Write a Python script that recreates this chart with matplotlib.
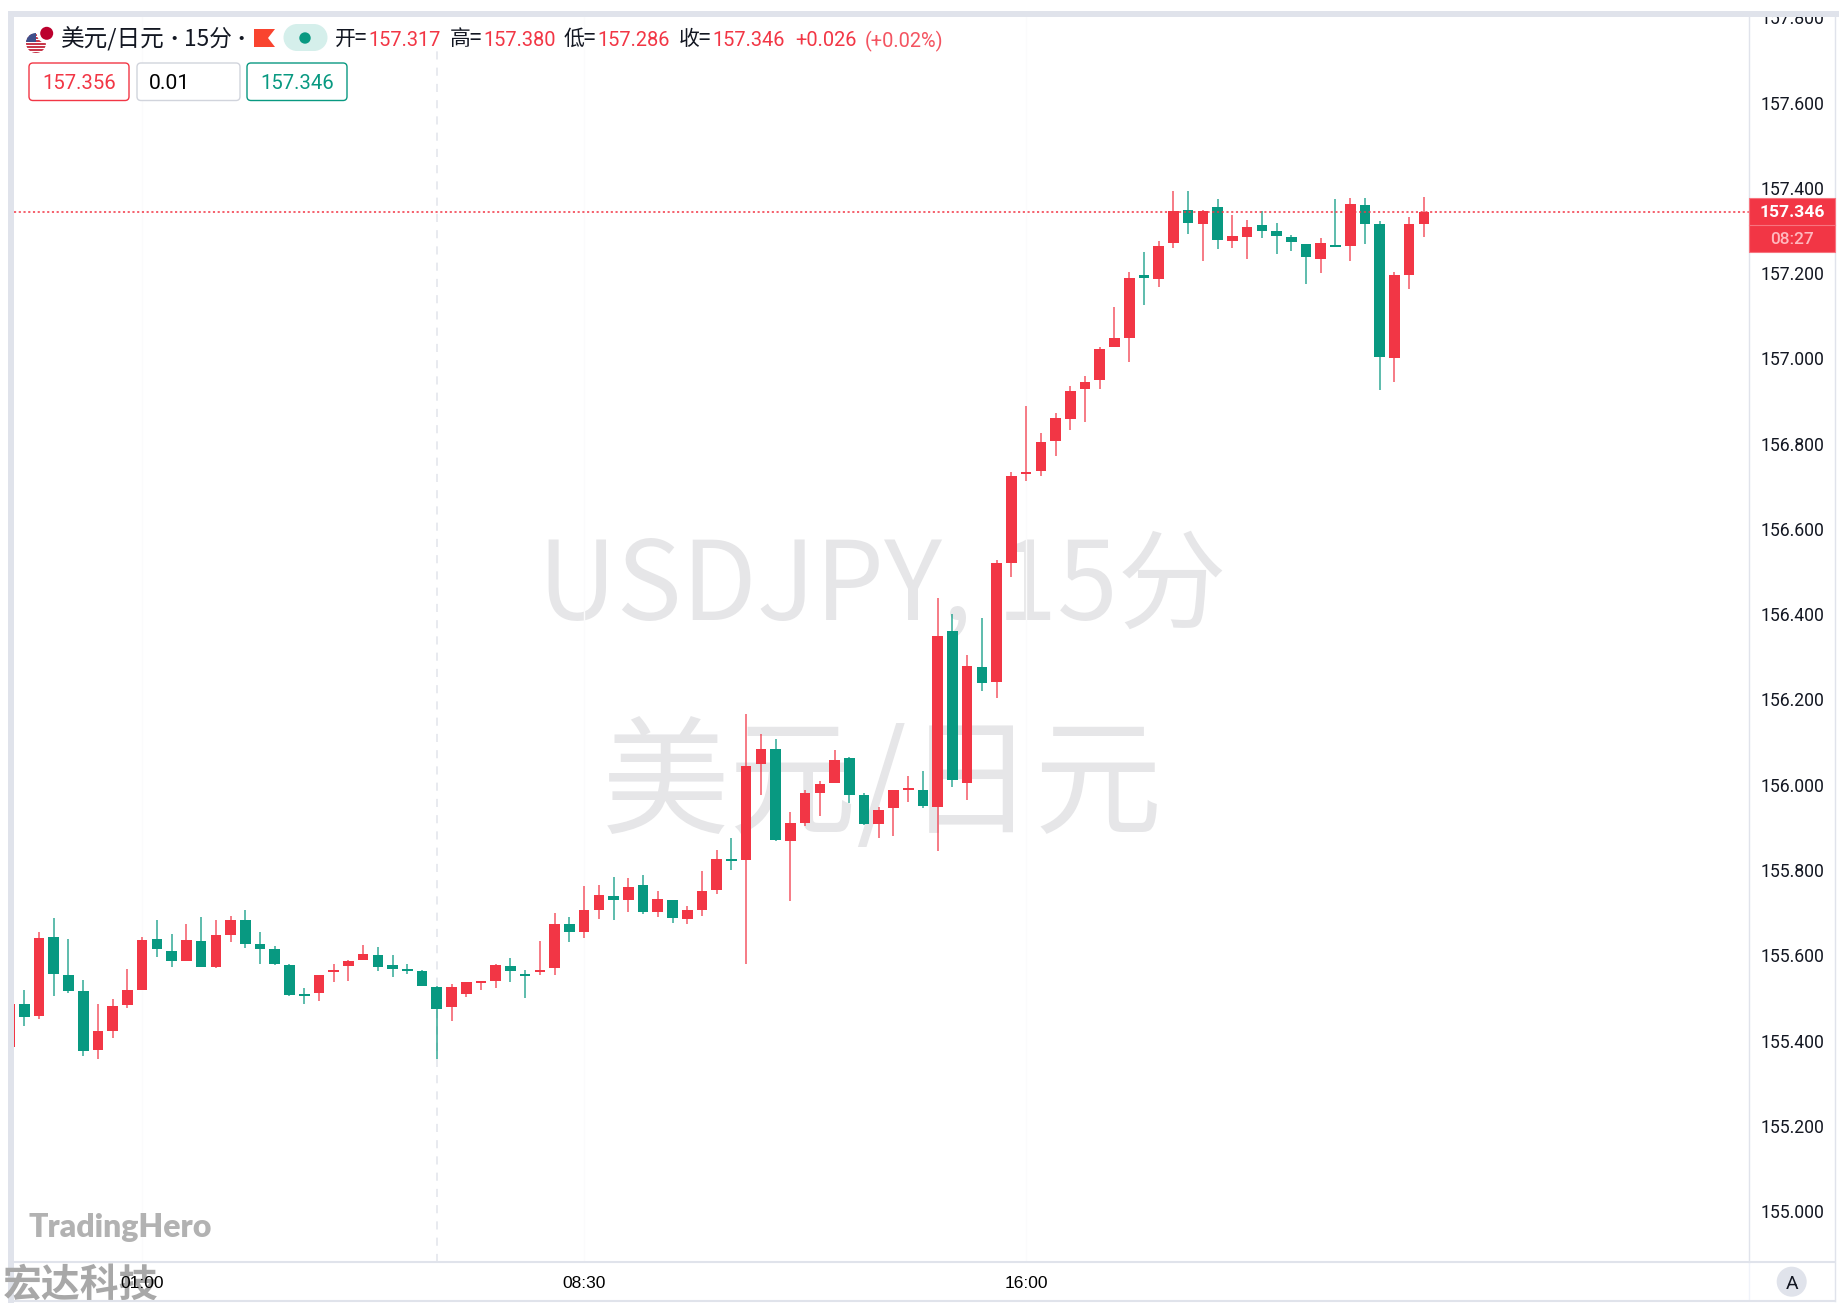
from matplotlib import pyplot as plt
from matplotlib.patches import Circle, FancyBboxPatch, Polygon, Rectangle
import numpy as np

CJK = ['Noto Sans CJK SC', 'DejaVu Sans']
NUM = 'Roboto'
RED = '#f23645'
GREEN = '#089981'
LINE = '#e0e3eb'

# 15 minute candles, the first one is cut by the left edge of the chart
opens = [155.387, 155.488, 155.459, 155.646, 155.557, 155.518, 155.380, 155.425, 155.485, 155.520,
         155.640, 155.613, 155.588, 155.635, 155.575, 155.649, 155.685, 155.628, 155.616, 155.580,
         155.509, 155.514, 155.563, 155.577, 155.591, 155.603, 155.580, 155.569, 155.566, 155.529,
         155.481, 155.511, 155.537, 155.543, 155.578, 155.556, 155.562, 155.573, 155.676, 155.657,
         155.708, 155.741, 155.732, 155.768, 155.705, 155.733, 155.688, 155.708, 155.756, 155.827,
         155.826, 156.050, 156.087, 155.871, 155.912, 155.983, 156.007, 156.064, 155.978, 155.910,
         155.948, 155.989, 155.989, 155.950, 156.362, 156.006, 156.279, 156.243, 156.522, 156.730,
         156.739, 156.808, 156.861, 156.930, 156.951, 157.028, 157.051, 157.195, 157.189, 157.272,
         157.350, 157.318, 157.358, 157.278, 157.288, 157.314, 157.300, 157.288, 157.271, 157.235,
         157.267, 157.266, 157.361, 157.317, 157.003, 157.197, 157.317]
highs = [155.487, 155.522, 155.658, 155.689, 155.641, 155.544, 155.487, 155.499, 155.571, 155.646,
         155.685, 155.653, 155.675, 155.692, 155.684, 155.694, 155.708, 155.658, 155.625, 155.583,
         155.525, 155.556, 155.582, 155.592, 155.627, 155.621, 155.604, 155.581, 155.567, 155.530,
         155.534, 155.540, 155.541, 155.581, 155.595, 155.569, 155.635, 155.702, 155.691, 155.766,
         155.767, 155.787, 155.784, 155.790, 155.752, 155.733, 155.717, 155.801, 155.849, 155.878,
         156.169, 156.122, 156.110, 155.939, 155.989, 156.011, 156.083, 156.068, 155.984, 155.949,
         155.989, 156.024, 156.035, 156.440, 156.403, 156.306, 156.393, 156.529, 156.736, 156.890,
         156.828, 156.874, 156.937, 156.960, 157.028, 157.123, 157.206, 157.253, 157.277, 157.394,
         157.394, 157.351, 157.375, 157.338, 157.328, 157.348, 157.321, 157.292, 157.271, 157.285,
         157.375, 157.378, 157.378, 157.324, 157.206, 157.335, 157.380]
lows = [155.387, 155.437, 155.452, 155.508, 155.515, 155.366, 155.359, 155.409, 155.478, 155.520,
        155.598, 155.574, 155.588, 155.574, 155.573, 155.633, 155.620, 155.582, 155.579, 155.507,
        155.488, 155.495, 155.540, 155.542, 155.591, 155.565, 155.552, 155.559, 155.531, 155.359,
        155.448, 155.504, 155.520, 155.525, 155.539, 155.502, 155.556, 155.556, 155.633, 155.644,
        155.687, 155.685, 155.704, 155.699, 155.692, 155.678, 155.676, 155.694, 155.745, 155.803,
        155.582, 155.978, 155.871, 155.729, 155.905, 155.929, 156.007, 155.960, 155.909, 155.878,
        155.883, 155.962, 155.948, 155.847, 155.998, 155.966, 156.222, 156.206, 156.490, 156.715,
        156.727, 156.773, 156.834, 156.852, 156.930, 157.028, 156.994, 157.127, 157.170, 157.261,
        157.295, 157.231, 157.260, 157.262, 157.236, 157.284, 157.246, 157.255, 157.177, 157.203,
        157.263, 157.230, 157.271, 156.929, 156.947, 157.164, 157.286]
closes = [155.487, 155.458, 155.644, 155.559, 155.518, 155.378, 155.425, 155.484, 155.520, 155.639,
          155.616, 155.589, 155.638, 155.575, 155.649, 155.686, 155.628, 155.616, 155.581, 155.509,
          155.507, 155.556, 155.569, 155.589, 155.606, 155.575, 155.571, 155.566, 155.531, 155.477,
          155.529, 155.540, 155.540, 155.580, 155.566, 155.553, 155.565, 155.676, 155.658, 155.709,
          155.743, 155.733, 155.763, 155.705, 155.734, 155.690, 155.709, 155.753, 155.829, 155.824,
          156.047, 156.086, 155.872, 155.912, 155.982, 156.005, 156.061, 155.978, 155.910, 155.942,
          155.989, 155.991, 155.953, 156.352, 156.014, 156.281, 156.242, 156.522, 156.726, 156.737,
          156.807, 156.862, 156.926, 156.947, 157.025, 157.049, 157.192, 157.192, 157.267, 157.349,
          157.321, 157.349, 157.281, 157.289, 157.311, 157.300, 157.289, 157.275, 157.240, 157.273,
          157.264, 157.365, 157.318, 157.005, 157.199, 157.318, 157.346]

price_ticks = [157.8, 157.6, 157.4, 157.2, 157.0, 156.8, 156.6, 156.4, 156.2, 156.0, 155.8, 155.6, 155.4, 155.2, 155.0]
time_ticks = [8, 38, 68]
time_labels = ['01:00', '08:30', '16:00']
hover_bar = 28
last_price = 157.346
ohlc_labels = ['开=', '高=', '低=', '收=']
ohlc_values = ['157.317', '157.380', '157.286', '157.346']

fig = plt.figure(figsize=(18.39, 13.03), dpi=100, facecolor='white')

# chart pane, from x 14 to 1749 and y 17 to 1262 in pixels
ax = fig.add_axes([14 / 1839, 1 - 1262 / 1303, (1749 - 14) / 1839, (1262 - 17) / 1303], zorder=1)
ax.set_xlim(-0.699, 117.07)
ax.set_ylim(154.883, 157.803)
ax.axis('off')

# everything around the chart is placed in pixels
px = fig.add_axes([0, 0, 1, 1], zorder=2)
px.set_xlim(0, 1839)
px.set_ylim(1303, 0)
px.axis('off')
px.patch.set_alpha(0)

x = np.arange(-1, len(opens) - 1)
opens, highs, lows, closes = map(np.array, (opens, highs, lows, closes))
colors = np.where(closes >= opens, RED, GREEN)

ax.text(882, 588, 'USDJPY, 15分', transform=px.transData, family=CJK, fontsize=78.5, color='#e6e6e8',
        ha='center', va='center', zorder=0)
ax.text(882, 788, '美元/日元', transform=px.transData, family=CJK, fontsize=92, color='#e6e6e8',
        ha='center', va='center', zorder=0)

for t in time_ticks:
    ax.axvline(t, color='#fbfbfc', lw=1, zorder=0.5)
ax.vlines(hover_bar, 154.883, 157.737, color='#e6e8ee', lw=1.3, linestyles=(0, (4.5, 4.5)), zorder=0.6)

ax.vlines(x, lows, highs, colors=colors, lw=1.15, alpha=0.8, zorder=2)
ax.bar(x, np.maximum(np.abs(closes - opens), 0.005), bottom=np.minimum(opens, closes), width=0.72, color=colors, zorder=3)
ax.axhline(last_price, color=RED, lw=1.1, ls=(0, (1.4, 1.7)), zorder=4)

# top and left borders of the pane
px.add_patch(Rectangle((8, 11), 1831, 6, color=LINE, lw=0))
px.add_patch(Rectangle((8, 11), 6, 1292, color=LINE, lw=0))
px.plot([1749, 1749], [17, 1262], color=LINE, lw=1)
px.plot([1749, 1749], [1262, 1300], color='#f0f3fa', lw=1)
px.plot([1835, 1835], [17, 1301], color=LINE, lw=1)
px.plot([14, 1835], [1262, 1262], color=LINE, lw=1.5)
px.plot([14, 1835], [1300.5, 1300.5], color=LINE, lw=1.5)

# price scale
for p in price_ticks:
    y = ax.transData.transform((0, p))[1]
    y = 1303 - y
    px.text(1792.5, y - 1, '{:.3f}'.format(p), family=NUM, fontsize=12.7, color='#131722', ha='center', va='center_baseline', zorder=1)
px.add_patch(Rectangle((1700, 11), 139, 6, color=LINE, lw=0, zorder=2))
px.add_patch(Rectangle((1749, 198), 86, 54, facecolor=RED, edgecolor='#f7747f', lw=0.8, zorder=3))
px.plot([1749, 1835], [225, 225], color='#f7747f', lw=0.8, zorder=4)
px.text(1792, 211, '157.346', family=NUM, fontweight='bold', fontsize=12.6, color='white', ha='center', va='center_baseline', zorder=5)
px.text(1792, 238, '08:27', family=NUM, fontsize=12.4, fontweight='medium', color='#ffb8be', ha='center', va='center_baseline', zorder=5)

# time scale
px.text(3, 1286, '宏达科技', family=CJK, fontweight='bold', fontsize=28, color='#a8a8a8', ha='left', va='center', zorder=1)
for t, lab in zip(time_ticks, time_labels):
    tx = ax.transData.transform((t, 155))[0]
    px.text(tx, 1283, lab, family='Liberation Sans', fontsize=12.5, color='black', ha='center', va='center', zorder=2)
px.add_patch(Circle((1791.7, 1281.7), 15, color=LINE, lw=0))
px.text(1791.7, 1282, 'A', family=NUM, fontsize=14, color='#131722', ha='center', va='center_baseline')

px.text(29, 1237, 'TradingHero', family='Lato', fontweight='heavy', fontsize=23, color='#b2b2b2', ha='left', va='baseline')

# header row
us = Circle((36, 43), 10, color='white', lw=0)
px.add_patch(us)
for yy in np.arange(34, 54, 3):
    px.add_patch(Rectangle((25, yy), 22, 1.5, color='#c8394b', lw=0, clip_path=us))
px.add_patch(Rectangle((25, 33), 11, 9, color='#3f4f8a', lw=0, clip_path=us))
px.add_patch(Circle((46.7, 33.3), 10, color='white', lw=0))
px.add_patch(Circle((46.7, 33.3), 6.5, color='#bc002d', lw=0))

px.text(61, 39, '美元/日元', family=CJK, fontsize=17, color='#131722', ha='left', va='center')
px.text(174, 39, '•', family=CJK, fontsize=14, color='#131722', ha='center', va='center')
px.text(184, 39, '15分', family=CJK, fontsize=16.3, color='#131722', ha='left', va='center')
px.text(241, 39, '•', family=CJK, fontsize=14, color='#131722', ha='center', va='center')
px.add_patch(Polygon([(254, 29), (275, 29), (268, 38), (275, 47), (254, 47)], closed=True, color='#f9442f', lw=0))
px.add_patch(Rectangle((297, 24), 17, 27, color='#d5efeb', lw=0))
px.add_patch(Circle((297, 37.5), 13.5, color='#d5efeb', lw=0))
px.add_patch(Circle((314, 37.5), 13.5, color='#d5efeb', lw=0))
px.add_patch(Circle((305, 38), 5.7, color=GREEN, lw=0))

label_x = [335, 450, 564, 679]
value_x = [368, 483, 597.5, 712.5]
for lx, vx, lab, val in zip(label_x, value_x, ohlc_labels, ohlc_values):
    px.text(lx, 39, lab, family=CJK, fontsize=15, color='#131722', ha='left', va='center')
    px.text(vx, 39, val, family=NUM, fontsize=14.4, color=RED, ha='left', va='center_baseline')
px.text(795, 39, '+0.026', family=NUM, fontsize=14.4, color=RED, ha='left', va='center_baseline')
px.text(865, 39, '(+0.02%)', family=NUM, fontsize=14.4, color=RED, alpha=0.85, ha='left', va='center_baseline')

# bid, lot size and ask boxes
boxes = [(29, 100, RED, '157.356', RED), (137, 103, '#d1d4dc', '0.01', 'black'), (247, 100, GREEN, '157.346', GREEN)]
for bx, bw, edge, txt, col in boxes:
    px.add_patch(FancyBboxPatch((bx, 63), bw, 37.5, boxstyle='round,pad=0,rounding_size=4', facecolor='white', edgecolor=edge, lw=1))
    if txt == '0.01':
        px.text(149, 81.5, txt, family=NUM, fontsize=15.2, color=col, ha='left', va='center_baseline')
    else:
        px.text(bx + bw / 2, 81.5, txt, family=NUM, fontsize=14.6, color=col, ha='center', va='center_baseline')

plt.savefig('out.png', dpi=100)
plt.close()
